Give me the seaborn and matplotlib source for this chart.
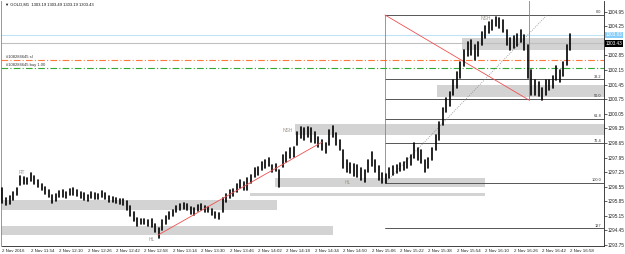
import numpy as np
import pandas as pd
import seaborn as sns
import matplotlib.pyplot as plt

# GOLD M1 - bars, one bar per 2 minutes from 11:38
bar_high = [
    1296.49, 1296.01, 1296.10, 1296.29, 1296.49, 1297.06, 1297.01, 1296.97, 1297.21, 1297.06,
    1296.87, 1296.68, 1296.53, 1296.39, 1296.15, 1296.20, 1296.34, 1296.39, 1296.29, 1296.44,
    1296.49, 1296.39, 1296.29, 1296.25, 1296.15, 1296.29, 1296.25, 1296.20, 1296.34, 1296.25,
    1296.10, 1296.05, 1296.01, 1295.96, 1295.96, 1295.86, 1295.62, 1295.33, 1295.05, 1295.00,
    1295.00, 1294.95, 1295.00, 1294.76, 1294.57, 1294.95, 1295.14, 1295.33, 1295.43, 1295.62,
    1295.72, 1295.77, 1295.72, 1295.57, 1295.53, 1295.67, 1295.72, 1295.62, 1295.57, 1295.48,
    1295.33, 1295.29, 1296.01, 1296.20, 1296.39, 1296.44, 1296.68, 1296.87, 1296.77, 1296.97,
    1297.11, 1297.45, 1297.49, 1297.73, 1297.83, 1297.93, 1297.59, 1297.64, 1297.35, 1298.07,
    1298.21, 1298.41, 1298.45, 1299.17, 1299.41, 1299.37, 1299.41, 1299.37, 1299.17, 1298.93,
    1298.79, 1298.65, 1299.27, 1299.46, 1299.13, 1298.79, 1298.31, 1297.83, 1297.69, 1297.64,
    1297.59, 1297.45, 1297.35, 1297.83, 1298.21, 1297.83, 1297.54, 1297.21, 1297.16, 1297.45,
    1297.54, 1297.59, 1297.69, 1297.73, 1297.93, 1298.07, 1298.65, 1298.41, 1298.31, 1297.83,
    1297.93, 1298.41, 1299.03, 1299.65, 1300.33, 1300.81, 1301.10, 1301.67, 1302.06, 1302.54,
    1303.11, 1303.50, 1303.59, 1303.35, 1303.50, 1303.98, 1304.26, 1304.46, 1304.55, 1304.70,
    1304.65, 1304.55, 1304.07, 1303.69, 1303.78, 1303.88, 1304.07, 1303.83, 1303.35, 1302.15,
    1301.67, 1301.58, 1301.29, 1301.67, 1301.67, 1301.86, 1302.34, 1302.15, 1302.54, 1303.35,
    1303.88,
]
bar_low = [
    1295.77, 1295.67, 1295.72, 1295.91, 1296.15, 1296.63, 1296.68, 1296.68, 1296.82, 1296.68,
    1296.53, 1296.39, 1296.20, 1296.05, 1295.77, 1295.86, 1296.05, 1296.05, 1296.01, 1296.15,
    1296.15, 1296.10, 1296.01, 1295.91, 1295.86, 1296.01, 1295.96, 1295.96, 1296.05, 1295.96,
    1295.81, 1295.81, 1295.77, 1295.72, 1295.67, 1295.43, 1295.14, 1294.90, 1294.66, 1294.76,
    1294.76, 1294.66, 1294.61, 1294.37, 1294.09, 1294.47, 1294.76, 1295.00, 1295.14, 1295.33,
    1295.43, 1295.48, 1295.43, 1295.24, 1295.19, 1295.38, 1295.43, 1295.33, 1295.33, 1295.19,
    1295.05, 1295.00, 1295.33, 1295.81, 1296.01, 1296.10, 1296.29, 1296.49, 1296.39, 1296.39,
    1296.73, 1297.01, 1297.11, 1297.35, 1297.45, 1297.54, 1297.25, 1297.30, 1296.53, 1297.49,
    1297.73, 1297.93, 1297.97, 1298.55, 1298.89, 1298.79, 1298.93, 1298.69, 1298.65, 1298.45,
    1298.31, 1298.17, 1298.55, 1298.93, 1298.55, 1298.31, 1297.45, 1297.25, 1297.21, 1297.06,
    1297.01, 1296.87, 1296.77, 1297.25, 1297.54, 1297.25, 1296.87, 1296.73, 1296.73, 1296.97,
    1297.11, 1297.21, 1297.30, 1297.35, 1297.45, 1297.59, 1297.93, 1297.83, 1297.69, 1297.25,
    1297.45, 1297.83, 1298.31, 1298.79, 1299.51, 1300.13, 1300.42, 1300.95, 1301.29, 1301.77,
    1302.34, 1302.82, 1302.87, 1302.63, 1302.82, 1303.35, 1303.69, 1303.93, 1304.07, 1304.26,
    1304.17, 1303.98, 1303.35, 1303.11, 1303.21, 1303.30, 1303.50, 1303.11, 1301.77, 1300.95,
    1300.95, 1300.90, 1300.71, 1300.95, 1301.19, 1301.29, 1301.67, 1301.58, 1301.86, 1302.39,
    1303.11,
]

time_labels = ["2 Nov 2016", "2 Nov 11:54", "2 Nov 12:10", "2 Nov 12:26", "2 Nov 12:42",
               "2 Nov 12:58", "2 Nov 13:14", "2 Nov 13:30", "2 Nov 13:46", "2 Nov 14:02",
               "2 Nov 14:18", "2 Nov 14:34", "2 Nov 14:50", "2 Nov 15:06", "2 Nov 15:22",
               "2 Nov 15:38", "2 Nov 15:54", "2 Nov 16:10", "2 Nov 16:26", "2 Nov 16:42",
               "2 Nov 16:58"]
price_ticks = [1304.95, 1304.25, 1303.55, 1302.85, 1302.15, 1301.45, 1300.75, 1300.05,
               1299.35, 1298.65, 1297.95, 1297.25, 1296.55, 1295.85, 1295.15, 1294.45, 1293.75]

bid = 1303.43
ask = 1303.83
sl_price = 1302.63
buy_price = 1302.25

# supply/demand zones (minutes from 11:38, price top, price bottom)
zone_start = [-1, -1, 153.5, 139.4, 164.8, 258.9, 245.0]
zone_end = [154.6, 186.2, 271.8, 271.8, 340, 340, 340]
zone_top = [1295.91, 1294.66, 1296.97, 1296.25, 1299.56, 1303.69, 1301.43]
zone_bottom = [1295.43, 1294.23, 1296.53, 1296.10, 1299.03, 1303.11, 1300.85]

# fibonacci retracement
fib_levels = [0.0, 38.2, 50.0, 61.8, 76.4, 100.0, 127.0]
fib_top = 1304.79
fib_bottom = 1296.73
fib_t0 = 215.5
fib_t1 = 306.8

marks = [("RT", 11, 1297.25), ("NSH", 161, 1299.27), ("NSH", 272.4, 1304.60),
         ("HL", 194.6, 1296.73), ("HL", 84.2, 1294.04)]

sns.set_style("white")
plt.rcParams['font.family'] = ['Liberation Sans', 'DejaVu Sans']

fig = plt.figure(figsize=(6.25, 2.54), dpi=100)
ax = fig.add_axes([1.5 / 625, 8.5 / 254, 602.5 / 625, 244.5 / 254])

t_bars = np.arange(len(bar_high)) * 2
df = pd.DataFrame({
    "t": np.concatenate([t_bars, t_bars]),
    "price": bar_high + bar_low,
    "bar": np.concatenate([t_bars, t_bars]),
})

# zones
for s, e, top, bot in zip(zone_start, zone_end, zone_top, zone_bottom):
    ax.fill_between([s, e], bot, top, color="#d3d3d3", lw=0, zorder=1)

# order lines
ax.axhline(ask, color="#bfe3f5", lw=0.8, zorder=2)
ax.axhline(bid, color="#c0c0c0", lw=0.8, zorder=2)
ax.axhline(sl_price, color="#ff7a3a", lw=0.8, ls=(0, (6, 2, 1, 2)), zorder=2)
ax.axhline(buy_price, color="#32a832", lw=0.8, ls=(0, (6, 2, 1, 2)), zorder=2)
ax.text(2, sl_price + 0.05, "#108284645 sl", fontsize=3, color="#333333", va="bottom")
ax.text(2, buy_price + 0.05, "#108284645 buy 1.00", fontsize=3, color="#333333", va="bottom")

# fibonacci levels
for lv in fib_levels:
    p = fib_top - (fib_top - fib_bottom) * lv / 100
    ax.plot([fib_t0, 340], [p, p], color="#555555", lw=0.7, zorder=2)
    ax.text(337.5, p + 0.03, f"{lv:.1f}" if lv != 127 else "127", fontsize=2.8,
            color="#333333", ha="right", va="bottom")
ax.plot([fib_t0, fib_t1], [fib_bottom, fib_top], color="#888888", lw=0.6, ls=":", zorder=2)
ax.plot([fib_t0, fib_t0], [fib_bottom, fib_top], color="#e06060", lw=0.6, zorder=2)

# trend lines
ax.plot([fib_t0, 296.6], [fib_top, 1300.71], color="#f05050", lw=0.6, zorder=2)
ax.plot([87.6, 180.0], [1294.23, 1298.69], color="#f05050", lw=0.6, zorder=4)
ax.plot([296.6, 296.6], [1300.71, 1306], color="#e06060", lw=0.6, zorder=2)

# price bars
sns.lineplot(data=df, x="t", y="price", units="bar", estimator=None,
             color="black", lw=1.2, ax=ax, legend=False, zorder=3)

for txt, t, p in marks:
    ax.text(t, p, txt, fontsize=3.6, color="#a09890", ha="center", va="center", zorder=5)

ax.text(0.006, 0.995, "\u25bc GOLD,M1  1303.19 1303.49 1303.19 1303.43", transform=ax.transAxes,
        fontsize=3, va="top", ha="left", color="#111111")

ax.set_xlim(-0.56, 338.9)
ax.set_ylim(1293.73, 1305.46)
ax.set_xticks(np.arange(len(time_labels)) * 16, labels=time_labels)
for lab in ax.get_xticklabels():
    lab.set_ha("left")
# the 1303.55 label sits under the bid tag, so it is left blank
ax.set_yticks(price_ticks, labels=["" if p == 1303.55 else f"{p:.2f}" for p in price_ticks])
ax.yaxis.tick_right()
ax.tick_params(axis="y", labelsize=3.3, length=2, width=0.5, pad=1, colors="#222222")
ax.tick_params(axis="x", labelsize=3.2, length=2, width=0.5, pad=0.5, colors="#222222")
ax.set_xlabel("")
ax.set_ylabel("")
ax.spines["top"].set_visible(False)
ax.spines["left"].set_color("#888888")
ax.spines["left"].set_linewidth(0.6)
ax.spines["right"].set_color("#222222")
ax.spines["right"].set_linewidth(0.6)
ax.spines["bottom"].set_color("#222222")
ax.spines["bottom"].set_linewidth(0.6)

# bid / ask price tags on the scale
ax.text(1.002, ask, f"{ask:.2f}", transform=ax.get_yaxis_transform(), fontsize=3.3,
        color="white", va="center", ha="left",
        bbox=dict(boxstyle="square,pad=0.15", fc="#87cefa", ec="none"))
ax.text(1.002, bid, f"{bid:.2f}", transform=ax.get_yaxis_transform(), fontsize=3.3,
        color="white", va="center", ha="left",
        bbox=dict(boxstyle="square,pad=0.15", fc="black", ec="none"))

fig.savefig("out.png", dpi=100)
